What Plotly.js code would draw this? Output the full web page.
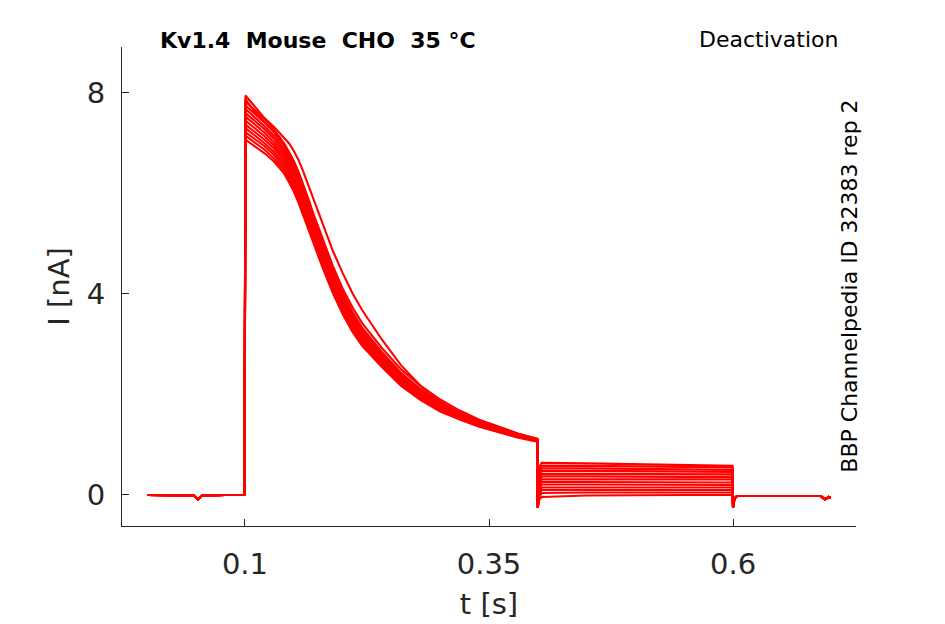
<!DOCTYPE html>
<html>
<head>
<meta charset="utf-8">
<script src="https://cdn.plot.ly/plotly-3.0.1.min.js"></script>
<style>html,body{margin:0;padding:0;background:#fff;}#chart{width:945px;height:624px;}</style>
</head>
<body>
<div id="chart"></div>
<script>
// ---- time samples (s) ----
var preTime   = [0, 0.03, 0.048, 0.052, 0.056, 0.08, 0.0995];
var decayTime = [0.1005, 0.11, 0.12, 0.13, 0.14, 0.145, 0.15, 0.155, 0.16, 0.165, 0.17, 0.18, 0.19, 0.2, 0.21, 0.22, 0.24, 0.26, 0.28, 0.3, 0.32, 0.34, 0.36, 0.38, 0.3995];
var spikeTime = [0.4];
var tailTime  = [0.4015, 0.404, 0.45, 0.5, 0.55, 0.5995];
var postTime  = [0.6, 0.6015, 0.604, 0.65, 0.69, 0.694, 0.698, 0.7];

// ---- shared current segments (nA) ----
var preCurrent   = [0, 0, -0.01, -0.09, -0.01, 0, 0];
var spikeCurrent = [-0.25];
var postCurrent  = [-0.25, -0.07, -0.02, -0.02, -0.02, -0.09, -0.04, -0.05];

// ---- per-sweep decay currents (nA) ----
var decay01 = [7.95, 7.72, 7.50, 7.32, 7.12, 7.00, 6.85, 6.66, 6.42, 6.16, 5.88, 5.35, 4.86, 4.42, 4.02, 3.68, 3.10, 2.58, 2.17, 1.86, 1.63, 1.45, 1.31, 1.18, 1.10];
var decay02 = [7.88, 7.62, 7.42, 7.22, 6.98, 6.82, 6.64, 6.42, 6.17, 5.89, 5.60, 5.06, 4.56, 4.11, 3.74, 3.42, 2.93, 2.50, 2.17, 1.90, 1.68, 1.50, 1.36, 1.22, 1.12];
var decay03 = [7.83, 7.66, 7.48, 7.27, 7.00, 6.83, 6.64, 6.41, 6.16, 5.87, 5.58, 5.02, 4.50, 4.04, 3.65, 3.33, 2.85, 2.43, 2.11, 1.84, 1.64, 1.48, 1.35, 1.22, 1.12];
var decay04 = [7.75, 7.59, 7.41, 7.21, 6.94, 6.77, 6.58, 6.35, 6.10, 5.81, 5.52, 4.97, 4.45, 4.00, 3.61, 3.29, 2.82, 2.40, 2.09, 1.82, 1.63, 1.47, 1.34, 1.21, 1.11];
var decay05 = [7.68, 7.52, 7.34, 7.14, 6.88, 6.71, 6.52, 6.29, 6.04, 5.75, 5.47, 4.92, 4.40, 3.95, 3.57, 3.26, 2.79, 2.38, 2.07, 1.80, 1.61, 1.46, 1.33, 1.20, 1.11];
var decay06 = [7.60, 7.44, 7.28, 7.08, 6.82, 6.65, 6.46, 6.23, 5.98, 5.70, 5.41, 4.86, 4.36, 3.91, 3.53, 3.22, 2.76, 2.35, 2.04, 1.79, 1.60, 1.44, 1.32, 1.20, 1.10];
var decay07 = [7.53, 7.37, 7.21, 7.01, 6.76, 6.59, 6.40, 6.17, 5.92, 5.64, 5.36, 4.81, 4.31, 3.86, 3.49, 3.19, 2.73, 2.33, 2.02, 1.77, 1.58, 1.43, 1.31, 1.19, 1.10];
var decay08 = [7.45, 7.30, 7.14, 6.95, 6.70, 6.53, 6.34, 6.11, 5.86, 5.58, 5.30, 4.76, 4.26, 3.82, 3.45, 3.15, 2.70, 2.30, 2.00, 1.75, 1.57, 1.42, 1.30, 1.18, 1.09];
var decay09 = [7.37, 7.23, 7.07, 6.89, 6.64, 6.47, 6.28, 6.05, 5.80, 5.52, 5.24, 4.71, 4.21, 3.78, 3.41, 3.11, 2.67, 2.27, 1.98, 1.73, 1.56, 1.41, 1.29, 1.17, 1.08];
var decay10 = [7.30, 7.16, 7.00, 6.82, 6.58, 6.41, 6.22, 5.99, 5.74, 5.46, 5.19, 4.66, 4.16, 3.73, 3.37, 3.08, 2.64, 2.25, 1.96, 1.71, 1.54, 1.40, 1.28, 1.16, 1.08];
var decay11 = [7.22, 7.08, 6.94, 6.76, 6.52, 6.35, 6.16, 5.93, 5.68, 5.41, 5.13, 4.60, 4.12, 3.69, 3.33, 3.04, 2.61, 2.22, 1.93, 1.70, 1.53, 1.38, 1.27, 1.16, 1.07];
var decay12 = [7.15, 7.01, 6.87, 6.69, 6.46, 6.29, 6.10, 5.87, 5.62, 5.35, 5.08, 4.55, 4.07, 3.64, 3.29, 3.01, 2.58, 2.20, 1.91, 1.68, 1.51, 1.37, 1.26, 1.15, 1.07];
var decay13 = [7.07, 6.94, 6.80, 6.63, 6.40, 6.23, 6.04, 5.81, 5.56, 5.29, 5.02, 4.50, 4.02, 3.60, 3.25, 2.97, 2.55, 2.17, 1.89, 1.66, 1.50, 1.36, 1.25, 1.14, 1.06];

// ---- per-sweep tail currents (nA) ----
var tail01 = [0.55, 0.64, 0.63, 0.61, 0.60, 0.58];
var tail02 = [0.50, 0.58, 0.58, 0.57, 0.56, 0.55];
var tail03 = [0.45, 0.53, 0.53, 0.52, 0.51, 0.50];
var tail04 = [0.40, 0.48, 0.48, 0.47, 0.47, 0.46];
var tail05 = [0.34, 0.42, 0.42, 0.42, 0.41, 0.41];
var tail06 = [0.29, 0.37, 0.37, 0.36, 0.36, 0.36];
var tail07 = [0.23, 0.31, 0.31, 0.31, 0.31, 0.31];
var tail08 = [0.18, 0.26, 0.26, 0.26, 0.25, 0.25];
var tail09 = [0.13, 0.21, 0.21, 0.21, 0.20, 0.20];
var tail10 = [0.07, 0.15, 0.15, 0.15, 0.15, 0.15];
var tail11 = [0.02, 0.10, 0.10, 0.10, 0.10, 0.10];
var tail12 = [-0.04, 0.04, 0.05, 0.05, 0.05, 0.05];
var tail13 = [-0.09, -0.04, -0.01, 0.00, 0.00, 0.00];

var decays = [decay01, decay02, decay03, decay04, decay05, decay06, decay07, decay08, decay09, decay10, decay11, decay12, decay13];
var tails  = [tail01, tail02, tail03, tail04, tail05, tail06, tail07, tail08, tail09, tail10, tail11, tail12, tail13];

var xTickVals = [0.1, 0.35, 0.6];
var xTickText = ['0.1', '0.35', '0.6'];
var yTickVals = [0, 4, 8];
var yTickText = ['0', '4', '8'];

var timeAll = preTime.concat(decayTime, spikeTime, tailTime, postTime);
var traces = [];
for (var i = 0; i < decays.length; i++) {
  traces.push({
    x: timeAll,
    y: preCurrent.concat(decays[i], spikeCurrent, tails[i], postCurrent),
    type: 'scatter', mode: 'lines',
    line: {color: '#ff0000', width: 2.1},
    hoverinfo: 'skip', showlegend: false
  });
}

var axisColor = '#262626';
var layout = {
  width: 945, height: 624,
  margin: {l: 122, r: 89, t: 47, b: 98},
  paper_bgcolor: '#ffffff', plot_bgcolor: '#ffffff',
  font: {family: 'DejaVu Sans', color: axisColor},
  xaxis: {
    range: [-0.026, 0.726], showgrid: false, zeroline: false,
    showline: true, linecolor: axisColor, linewidth: 1, mirror: false,
    ticks: 'inside', ticklen: 7, tickcolor: axisColor, tickwidth: 1,
    tickvals: xTickVals, ticktext: xTickText,
    tickfont: {family: 'DejaVu Sans', size: 29, color: axisColor},
    ticklabelstandoff: 12,
    title: {text: 't [s]', font: {family: 'DejaVu Sans', size: 29, color: axisColor}, standoff: 13}
  },
  yaxis: {
    range: [-0.617, 8.915], showgrid: false, zeroline: false,
    showline: true, linecolor: axisColor, linewidth: 1, mirror: false,
    ticks: 'inside', ticklen: 7, tickcolor: axisColor, tickwidth: 1,
    tickvals: yTickVals, ticktext: yTickText,
    tickfont: {family: 'DejaVu Sans', size: 29, color: axisColor},
    ticklabelstandoff: 10,
    title: {text: 'I [nA]', font: {family: 'DejaVu Sans', size: 29, color: axisColor}, standoff: 8}
  },
  annotations: [
    {text: '<b>Kv1.4  Mouse  CHO  35 °C</b>', xref: 'paper', yref: 'paper', x: 0.049, y: 1.0146,
     xanchor: 'left', yanchor: 'middle', showarrow: false,
     font: {family: 'DejaVu Sans', size: 22, color: '#000000'}},
    {text: 'Deactivation', xref: 'paper', yref: 'paper', x: 0.978, y: 1.0167,
     xanchor: 'right', yanchor: 'middle', showarrow: false,
     font: {family: 'DejaVu Sans', size: 22, color: '#000000'}},
    {text: 'BBP Channelpedia ID 32383 rep 2', xref: 'paper', yref: 'paper', x: 0.990, y: 0.501,
     xanchor: 'center', yanchor: 'middle', showarrow: false, textangle: -90,
     font: {family: 'DejaVu Sans', size: 22, color: '#000000'}}
  ]
};

Plotly.newPlot('chart', traces, layout, {staticPlot: true, displayModeBar: false});
</script>
</body>
</html>
